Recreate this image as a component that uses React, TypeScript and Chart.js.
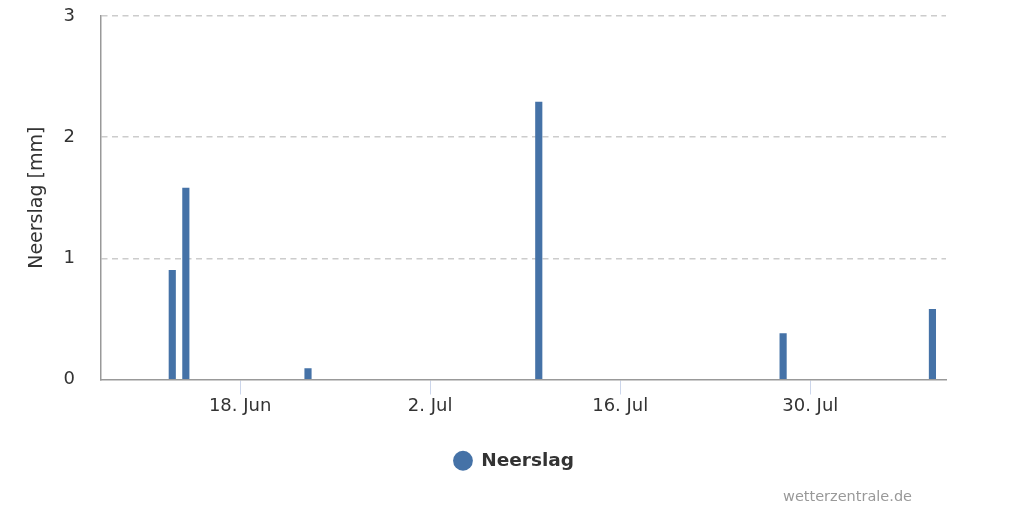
import React, { useEffect, useRef } from "react";
import { Chart, registerables } from "chart.js";

Chart.register(...registerables);

// Day offsets relative to 18 June
const rainDays = [-5, -4, 5, 22, 40, 51];
const rainValues = [0.9, 1.58, 0.09, 2.29, 0.38, 0.58];
const tickDays = [0, 14, 28, 42];
const tickLabels = ["18. Jun", "2. Jul", "16. Jul", "30. Jul"];
const seriesName = "Neerslag";
const yTitle = "Neerslag [mm]";
const creditText = "wetterzentrale.de";

const FONT = '"DejaVu Sans", sans-serif';

const creditsPlugin = {
  id: "credits",
  afterDraw(chart: any) {
    const ctx = chart.ctx;
    ctx.save();
    ctx.font = `14.5px ${FONT}`;
    ctx.fillStyle = "#999999";
    ctx.textAlign = "right";
    ctx.textBaseline = "middle";
    ctx.fillText(creditText, chart.width - 112, 497);
    ctx.restore();
  },
};

export default function App() {
  const ref = useRef<HTMLCanvasElement | null>(null);

  useEffect(() => {
    if (!ref.current) return;
    Chart.defaults.font.family = FONT;
    const chart = new Chart(ref.current, {
      type: "bar",
      data: {
        datasets: [
          {
            label: seriesName,
            data: rainDays.map((d, i) => ({ x: d, y: rainValues[i] })),
            backgroundColor: "#4572a7",
            borderWidth: 0,
            barThickness: 6.5,
          },
        ],
      },
      options: {
        animation: false,
        responsive: false,
        layout: { padding: { top: 16, left: 4, right: 0, bottom: 32 } },
        plugins: {
          legend: {
            position: "bottom",
            labels: {
              usePointStyle: true,
              pointStyle: "circle",
              boxWidth: 18,
              boxHeight: 14,
              padding: 10,
              color: "#333333",
              font: { size: 18.5, weight: "bold" },
            },
          },
          tooltip: { enabled: false },
        },
        scales: {
          x: {
            type: "linear",
            offset: false,
            min: -10.25,
            max: 52.0,
            afterFit: (s: any) => {
              s.height = 62;
            },
            afterBuildTicks: (s: any) => {
              s.ticks = tickDays.map((v) => ({ value: v }));
            },
            grid: {
              offset: false,
              drawOnChartArea: false,
              drawTicks: true,
              tickLength: 15,
              tickColor: "#ccd6eb",
            },
            border: { display: true, color: "#999999", width: 1.5 },
            ticks: {
              autoSkip: false,
              maxRotation: 0,
              padding: 1,
              color: "#333333",
              font: { size: 18 },
              callback: (v: any) => {
                const i = tickDays.indexOf(Number(v));
                return i >= 0 ? tickLabels[i] : "";
              },
            },
          },
          y: {
            min: 0,
            max: 3,
            afterFit: (s: any) => {
              s.width = 97;
            },
            ticks: {
              stepSize: 1,
              padding: 0,
              color: "#333333",
              font: { size: 18 },
            },
            grid: {
              drawTicks: true,
              tickLength: 26,
              tickColor: "rgba(0,0,0,0)",
              color: (c: any) => (c.tick && c.tick.value === 0 ? "rgba(0,0,0,0)" : "#cccccc"),
              lineWidth: 1.5,
            },
            border: { display: true, color: "#999999", width: 1.5, dash: [6, 4.5] },
            title: {
              display: true,
              text: yTitle,
              color: "#333333",
              font: { size: 19 },
              padding: { top: 22, bottom: 0 },
            },
          },
          yRight: {
            position: "right",
            display: true,
            afterFit: (s: any) => {
              s.width = 78;
            },
            ticks: { display: false },
            grid: { display: false, drawTicks: false },
            border: { display: false },
          },
        },
      },
      plugins: [creditsPlugin],
    } as any);
    return () => chart.destroy();
  }, []);

  return (
    <div style={{ position: "fixed", left: 0, top: 0, width: 1024, height: 512, background: "#ffffff" }}>
      <canvas ref={ref} width={1024} height={512} />
    </div>
  );
}
